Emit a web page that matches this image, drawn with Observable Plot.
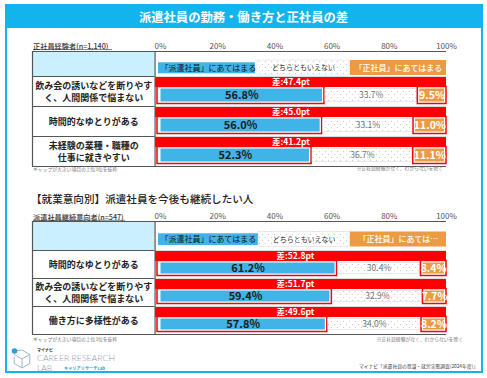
<!DOCTYPE html>
<html><head><meta charset="utf-8">
<script src="https://cdn.jsdelivr.net/npm/d3@7"></script>
<script src="https://cdn.jsdelivr.net/npm/@observablehq/plot@0.6"></script>
<style>
body{margin:0;background:#fff;}
#page{position:relative;width:487px;height:378px;overflow:hidden;background:#fff;}
.plot{position:absolute;left:0;}
#overlay{position:absolute;left:0;top:0;pointer-events:none;}
</style></head><body>
<svg width="0" height="0" style="position:absolute"><defs>
<pattern id="dots" width="6" height="6" patternUnits="userSpaceOnUse"><rect width="6" height="6" fill="#fff"/><circle cx="1.5" cy="1.5" r="0.6" fill="#c4c4c4"/><circle cx="4.5" cy="4.5" r="0.6" fill="#c4c4c4"/></pattern>
</defs></svg>
<div id="page">
<div id="pA" class="plot" style="top:36px"></div>
<div id="pB" class="plot" style="top:206px"></div>
<svg id="overlay" width="487" height="378" font-family="'Noto Sans CJK JP','Noto Sans',sans-serif">
  <rect x="6" y="5" width="476" height="367" fill="none" stroke="#12b4ee" stroke-width="2"/>
  <rect x="5" y="4" width="478" height="24" fill="#12b4ee"/>
  <text x="243.5" y="16.5" text-anchor="middle" dominant-baseline="central" fill="#fff" font-size="12.3" font-weight="700">派遣社員の勤務・働き方と正社員の差</text>
  <text x="33" y="45.5" dominant-baseline="central" fill="#333" font-size="7.2" font-weight="500">正社員経験者(n=1,140)</text>
  <line x1="33" x2="112" y1="49.5" y2="49.5" stroke="#333" stroke-width="0.6"/>
  <text x="33" y="168.5" dominant-baseline="central" fill="#777" font-size="4.8">ギャップが大きい項目の上位3位を抜粋</text>
  <text x="443" y="167.5" text-anchor="end" dominant-baseline="central" fill="#777" font-size="4.8">※正社員経験がなく、わからないを除く</text>
  <text x="31" y="198" dominant-baseline="central" fill="#222" font-size="10.6" font-weight="500">【就業意向別】派遣社員を今後も継続したい人</text>
  <text x="33" y="216.5" dominant-baseline="central" fill="#333" font-size="7.2" font-weight="500">派遣社員継続意向者(n=547)</text>
  <line x1="33" x2="125" y1="220.3" y2="220.3" stroke="#333" stroke-width="0.6"/>
  <text x="33" y="338.5" dominant-baseline="central" fill="#777" font-size="4.8">ギャップが大きい項目の上位3位を抜粋</text>
  <text x="463" y="338.5" text-anchor="end" dominant-baseline="central" fill="#777" font-size="4.8">※正社員経験がなく、わからないを除く</text>
  <g fill="none" stroke="#8fb0c8" stroke-width="0.9">
    <polyline points="22,350 29.8,354.5 29.8,363.5 22,368 14.2,363.5 14.2,357"/>
    <polyline points="14.2,354.5 22,359 29.8,354.5"/>
    <line x1="22" y1="359" x2="22" y2="368"/>
    <line x1="15" y1="351" x2="22" y2="350"/>
  </g>
  <circle cx="14.5" cy="351" r="2.8" fill="#2aa0dc"/>
  <text x="37" y="350" dominant-baseline="central" fill="#222" font-size="4" font-weight="700">マイナビ</text>
  <text x="37" y="358" dominant-baseline="central" fill="#8598ab" font-size="8" font-family="Lato" font-weight="300" textLength="78" lengthAdjust="spacingAndGlyphs">CAREER RESEARCH</text>
  <text x="37" y="367.5" dominant-baseline="central" fill="#8598ab" font-size="8" font-family="Lato" font-weight="300" textLength="15" lengthAdjust="spacingAndGlyphs">LAB</text>
  <text x="64" y="368" dominant-baseline="central" fill="#2a9fd8" font-size="4" font-weight="700" textLength="41" lengthAdjust="spacingAndGlyphs">キャリアリサーチLab</text>
  <text x="478" y="365" text-anchor="end" dominant-baseline="central" fill="#444" font-size="5" textLength="119" lengthAdjust="spacingAndGlyphs">マイナビ「派遣社員の意識・就労実態調査(2024年度)」</text>
</svg>
</div>
<script>
// ---- data ----
const xTicks = [0, 20, 40, 60, 80, 100];

const catsA = ["飲み会の誘いなどを断りやすく、人間関係で悩まない", "時間的なゆとりがある", "未経験の業種・職種の仕事に就きやすい"];
const labelsA = ["飲み会の誘いなどを断りやす\nく、人間関係で悩まない", "時間的なゆとりがある", "未経験の業種・職種の\n仕事に就きやすい"];
const hakenA = [56.8, 56.0, 52.3];
const neutralA = [33.7, 33.1, 36.7];
const seishainA = [9.5, 11.0, 11.1];
const gapA = [47.4, 45.0, 41.2];
const legendA = ["「派遣社員」にあてはまる", "どちらともいえない", "「正社員」にあてはまる"];

const catsB = ["時間的なゆとりがある", "飲み会の誘いなどを断りやすく、人間関係で悩まない", "働き方に多様性がある"];
const labelsB = ["時間的なゆとりがある", "飲み会の誘いなどを断りやす\nく、人間関係で悩まない", "働き方に多様性がある"];
const hakenB = [61.2, 59.4, 57.8];
const neutralB = [30.4, 32.9, 34.0];
const seishainB = [8.4, 7.7, 8.2];
const gapB = [52.8, 51.7, 49.6];
const legendB = ["「派遣社員」にあてはまる", "どちらともいえない", "「正社員」にあては…"];

// ---- style ----
const RED = "#ff0000", BLUE = "#41b3e6", ORANGE = "#eb9b43";
const FONT = "'Noto Sans CJK JP','Noto Sans',sans-serif";
const xMin = -44.755, colEdge = -1.9, colCenter = -23.3;

function panel(cfg) {
  const n = cfg.cats.length, rowH = cfg.rowH, hdr = cfg.hdrPx / rowH;
  const rows = cfg.cats.map((c, i) => ({cat: c, label: cfg.labels[i], a: cfg.haken[i], b: cfg.neutral[i], c: cfg.seishain[i], g: cfg.gap[i], top: hdr + i, bot: hdr + i + 1}));
  const total = hdr + n, tableH = cfg.hdrPx + n * rowH, mt = 15, mb = 4;
  const barMid = (12.5 + rowH - 4.5) / 2;
  const L = cfg.legend;
  const legRect = (i, fill, extra) => Plot.rect([L[i]], {x1: () => cfg.legStart[i], x2: () => cfg.legEnd[i], y1: () => 0, y2: () => hdr, insetTop: cfg.legIns[i][0], insetBottom: cfg.legIns[i][1], fill, ...extra});
  const legMidPx = i => (cfg.legIns[i][0] + cfg.hdrPx - cfg.legIns[i][1]) / 2;
  return Plot.plot({
    width: 487, height: mt + tableH + mb,
    marginTop: mt, marginBottom: mb, marginLeft: 32, marginRight: 41,
    style: {fontFamily: FONT, background: "transparent"},
    x: {domain: [xMin, 100], axis: null},
    y: {domain: [0, total], reverse: true, axis: null},
    marks: [
      Plot.rect([0], {x1: () => xMin, x2: () => colEdge, y1: () => 0, y2: () => hdr, fill: "#c9f0fc"}),
      Plot.ruleY(rows, {y: "top", x1: () => colEdge, x2: () => 100, stroke: "#d4d4d4", strokeWidth: 0.8}),
      legRect(0, BLUE),
      legRect(1, "url(#dots)", {stroke: "#dcdcdc", strokeWidth: 0.6}),
      legRect(2, ORANGE),
      Plot.text([L[0]], {x: () => cfg.legStart[0] + 0.7, y: () => 0, dy: legMidPx(0), text: d => d, textAnchor: "start", fontSize: 8, fill: "#111"}),
      Plot.text([L[1]], {x: () => (cfg.legStart[1] + cfg.legEnd[1]) / 2, y: () => 0, dy: legMidPx(1), text: d => d, fontSize: 7, fill: "#333"}),
      Plot.text([L[2]], {x: () => (cfg.legStart[2] + cfg.legEnd[2]) / 2, y: () => 0, dy: legMidPx(2), text: d => d, fontSize: 8, fill: "#fff", fontWeight: 500}),
      Plot.rect(rows, {x1: () => 0, x2: () => 100, y1: "top", y2: "bot", insetLeft: -5, insetTop: 1, insetBottom: rowH - 11, fill: RED}),
      Plot.rect(rows, {x1: () => 0, x2: "a", y1: "top", y2: "bot", insetLeft: -3, insetRight: -1.5, insetTop: 10.5, insetBottom: 2.5, fill: "#fff", stroke: RED, strokeWidth: 1.5}),
      Plot.rect(rows, {x1: () => 0, x2: "a", y1: "top", y2: "bot", insetLeft: 0.5, insetRight: 0.5, insetTop: 12.5, insetBottom: 4.5, fill: BLUE}),
      Plot.rect(rows, {x1: "a", x2: d => 100 - d.c, y1: "top", y2: "bot", insetLeft: 2.5, insetRight: 2.5, insetTop: 12.5, insetBottom: 4.5, fill: "url(#dots)", stroke: "#dcdcdc", strokeWidth: 0.6}),
      Plot.rect(rows, {x1: d => 100 - d.c, x2: () => 100, y1: "top", y2: "bot", insetLeft: -1.5, insetRight: 0, insetTop: 10.5, insetBottom: 2.5, fill: "#fff", stroke: RED, strokeWidth: 1.5}),
      Plot.rect(rows, {x1: d => 100 - d.c, x2: () => 100, y1: "top", y2: "bot", insetLeft: 0.5, insetRight: 2, insetTop: 12.5, insetBottom: 4.5, fill: ORANGE}),
      Plot.text(rows, {x: () => colCenter, y: d => (d.top + d.bot) / 2, text: "label", fontSize: 9, fontWeight: 700, fill: "#222", lineHeight: 1.3}),
      Plot.text(rows, {x: () => cfg.gapX, y: "top", dy: 6, text: d => `差:${d.g.toFixed(1)}pt`, fontSize: 8.5, fontWeight: 700, fill: "#fff"}),
      Plot.text(rows, {x: d => d.a / 2, y: "top", dy: barMid, text: d => d.a.toFixed(1) + "%", fontSize: 11, fontWeight: 700, fill: "#1b1b1b"}),
      Plot.text(rows, {x: d => (d.a + 100 - d.c) / 2, y: "top", dy: barMid, text: d => d.b.toFixed(1) + "%", fontSize: 8.5, fill: "#707070"}),
      Plot.text(rows, {x: d => 100 - d.c / 2 - 0.3, y: "top", dy: barMid, text: d => d.c.toFixed(1) + "%", fontSize: 10.5, fontWeight: 700, fill: "#fff"}),
      Plot.ruleY(rows, {y: "top", x1: () => xMin, x2: () => colEdge, stroke: "#555", strokeWidth: 1}),
      Plot.ruleY([0, total], {x1: () => xMin, x2: () => 100, stroke: "#555", strokeWidth: 1.2}),
      Plot.ruleX([xMin, colEdge], {y1: () => 0, y2: () => total, stroke: "#555", strokeWidth: 1.2}),
      Plot.axisX({anchor: "top", ticks: xTicks, tickSize: 0, tickPadding: 3, tickFormat: d => d + "%", fontSize: 8, color: "#555", label: null})
    ]
  });
}

document.getElementById("pA").append(panel({
  cats: catsA, labels: labelsA, haken: hakenA, neutral: neutralA, seishain: seishainA, gap: gapA,
  legend: legendA, legStart: [-0.7, 33.9, 66.4], legEnd: [33.2, 66.1, 100], legIns: [[11.3, 2.7], [9, 1], [9, 1]],
  rowH: 30, hdrPx: 25, gapX: 45.6
}));
document.getElementById("pB").append(panel({
  cats: catsB, labels: labelsB, haken: hakenB, neutral: neutralB, seishain: seishainB, gap: gapB,
  legend: legendB, legStart: [-0.7, 34.3, 66.4], legEnd: [34.3, 66.1, 100], legIns: [[12.3, 5], [10.5, 3.5], [10.5, 3.5]],
  rowH: 28, hdrPx: 29, gapX: 47.2
}));
</script>
</body></html>
